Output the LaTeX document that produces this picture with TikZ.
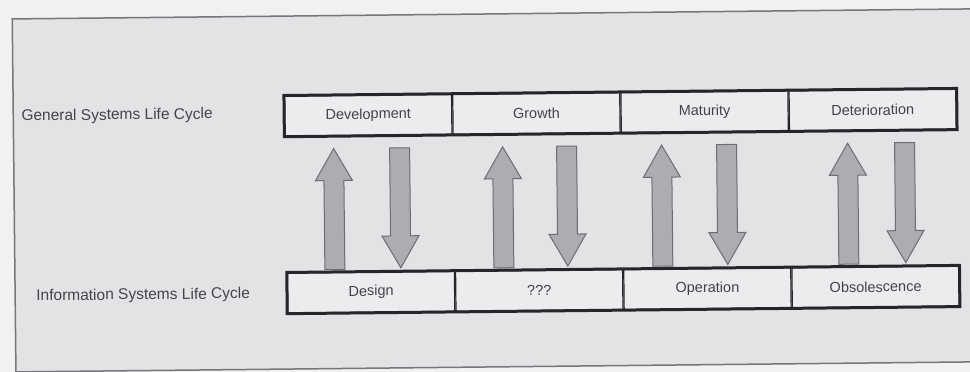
\documentclass[tikz,border=0pt]{standalone}
\usepackage{fontspec}
\setmainfont{Liberation Sans}
\usetikzlibrary{positioning,calc}
\definecolor{paperwhite}{RGB}{241,241,242}
\definecolor{panelgray}{RGB}{227,227,230}
\definecolor{framegray}{RGB}{118,118,122}
\definecolor{boxline}{RGB}{38,38,42}
\definecolor{cellfill}{RGB}{236,236,239}
\definecolor{labelgray}{RGB}{68,68,72}
\definecolor{arrfill}{RGB}{172,172,178}
\definecolor{arrline}{RGB}{108,108,114}

\begin{document}
\begin{tikzpicture}[
  x=1pt, y=-1pt,
  stage/.style={draw=boxline, line width=1.2pt, fill=cellfill,
                minimum width=167pt, minimum height=40pt, inner sep=0pt,
                font=\fontsize{14.5}{16}\selectfont, text=labelgray},
  rowlab/.style={anchor=west, inner sep=0pt,
                 font=\fontsize{15.5}{17}\selectfont, text=labelgray},
  rowbox/.style={draw=boxline, line width=3pt},
  fatarr/.style={draw=arrline, line width=1pt, fill=arrfill, line join=miter},
]

% page and clip
\useasboundingbox (0,0) rectangle (970,372);
\clip (0,0) rectangle (970,372);
\fill[paperwhite] (0,0) rectangle (970,372);

\begin{scope}[rotate around={0.6:(485,186)}, transform shape]

% frame
\fill[panelgray] (14,14) -- (1000,14) -- (1000,367) -- (14,367) -- cycle;
\draw[framegray, line width=1.5pt] (1000,14) -- (14,14) -- (14,390);
\draw[framegray, line width=1.5pt] (14,367) -- (1000,367);

% row labels
\node[rowlab] (gslab) at (22,112) {General Systems Life Cycle};
\node[rowlab] (islab) at (35,292) {Information Systems Life Cycle};

% general systems row
\node[stage] (dev) at (369,114) {Development};
\node[stage, right=0pt of dev] (gro) {Growth};
\node[stage, right=0pt of gro] (mat) {Maturity};
\node[stage, right=0pt of mat] (det) {Deterioration};
\draw[rowbox] (dev.north west) -- (det.north east) -- (det.south east)
  -- (dev.south west) -- cycle;

% information systems row
\node[stage] (des) at (370,291) {Design};
\node[stage, right=0pt of des] (unk) {???};
\node[stage, right=0pt of unk] (ope) {Operation};
\node[stage, right=0pt of ope] (obs) {Obsolescence};
\draw[rowbox] (des.north west) -- (obs.north east) -- (obs.south east)
  -- (des.south west) -- cycle;

% block arrows between the rows (up, then down)
\foreach \xu/\xd in {334/400, 503/567, 662/727, 848/905} {
  \draw[fatarr] (\xu-10,268) -- (\xu-10,179) -- (\xu-18.5,179) -- (\xu,147)
    -- (\xu+18.5,179) -- (\xu+10,179) -- (\xu+10,268) -- cycle;
  \draw[fatarr] (\xd-10,147) -- (\xd-10,235) -- (\xd-18.5,235) -- (\xd,267)
    -- (\xd+18.5,235) -- (\xd+10,235) -- (\xd+10,147) -- cycle;
}

\end{scope}
\end{tikzpicture}
\end{document}
